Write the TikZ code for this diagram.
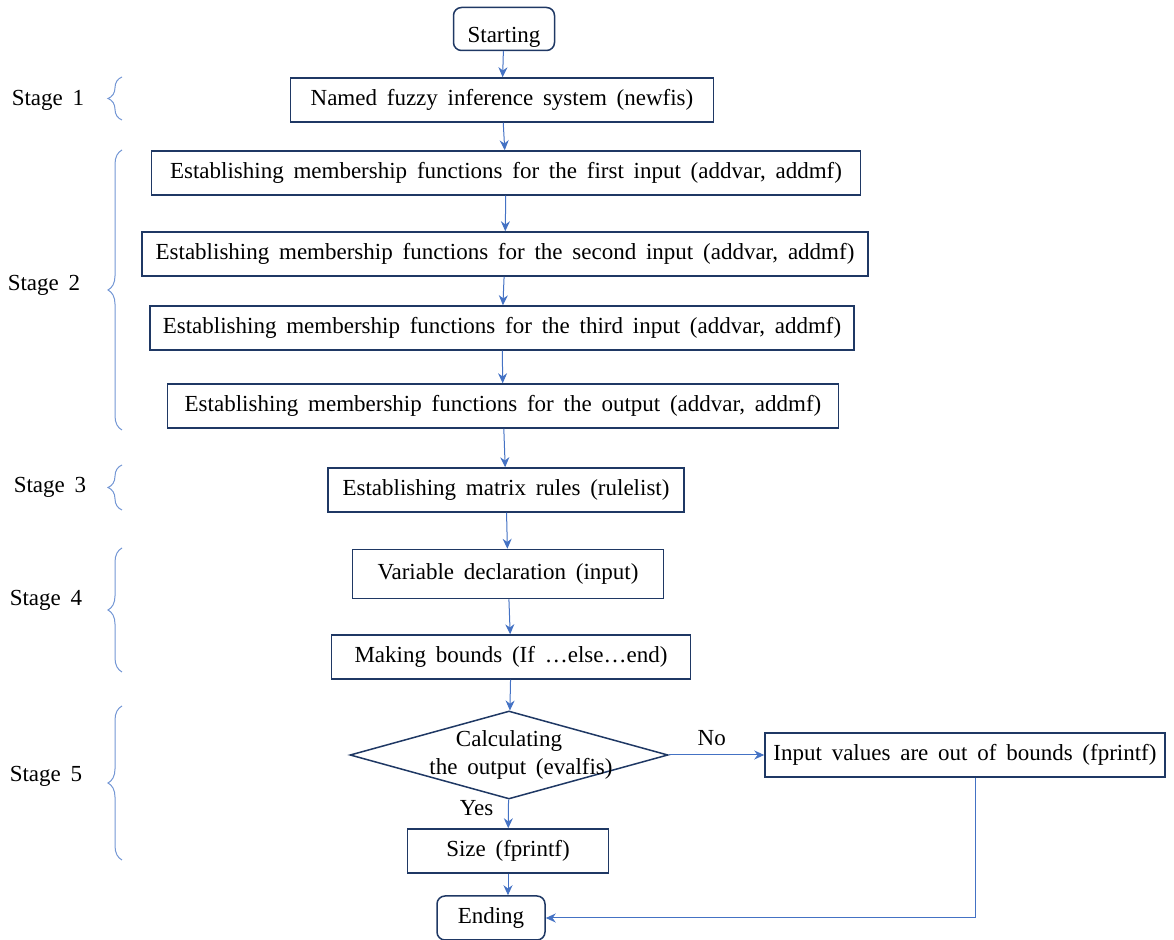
\documentclass[tikz,border=0pt]{standalone}
\usepackage{fontspec}
\setmainfont{Liberation Serif}[WordSpace=1.7]
\usepackage{tikz}
\usetikzlibrary{
    positioning,
    arrows.meta,
    shapes.geometric,
    decorations.pathreplacing
}
\definecolor{boxline}{HTML}{1F3864}
\definecolor{flowline}{HTML}{4472C4}
\definecolor{braceline}{HTML}{7396D4}
\tikzset{
    >={Stealth[length=5pt,width=4.5pt]},
    stepbox/.style={
        draw=boxline,
        line width=0.75pt,
        minimum height=22pt,
        inner sep=2pt
    },
    endbox/.style={
        stepbox,
        rounded corners=4pt
    },
    flow/.style={
        ->,
        draw=flowline,
        line width=0.5pt
    },
    stagebrace/.style={
        draw=braceline,
        line width=0.5pt,
        decorate,
        decoration={brace, amplitude=7pt}
    }
}

\begin{document}
\begin{tikzpicture}[
    x=0.5pt,
    y=-0.5pt,
    font=\fontsize{11.5}{14}\selectfont
]
    \useasboundingbox (0,0) rectangle (1174,940);

    % Pasos
    \node[endbox, minimum width=50.5pt, minimum height=21.5pt,
          label={[yshift=-4pt]center:Starting}] (start) at (504,29) {};
    \node[stepbox, minimum width=211.5pt] (fis)   at (502,100) {Named fuzzy inference system (newfis)};
    \node[stepbox, minimum width=354.5pt] (mfa)   at (506,173) {Establishing membership functions for the first input (addvar, addmf)};
    \node[stepbox, minimum width=363pt]   (mfb)   at (505,254) {Establishing membership functions for the second input (addvar, addmf)};
    \node[stepbox, minimum width=352pt]   (mfc)   at (502,328) {Establishing membership functions for the third input (addvar, addmf)};
    \node[stepbox, minimum width=335.5pt] (mfo)   at (503,406) {Establishing membership functions for the output (addvar, addmf)};
    \node[stepbox, minimum width=178pt]   (rules) at (506,490) {Establishing matrix rules (rulelist)};
    \node[stepbox, minimum width=155.5pt, minimum height=24.5pt] (decl) at (508,574) {Variable declaration (input)};
    \node[stepbox, minimum width=179.5pt] (bnds)  at (511,657) {Making bounds (If \dots else\dots end)};
    \node[draw=boxline, line width=0.75pt, diamond, minimum width=159pt, minimum height=44pt, inner sep=0pt,
          label={[align=center]center:Calculating\\\hspace*{12pt}the output (evalfis)}]
                                          (calc)  at (509,755) {};
    \node[stepbox, minimum width=200pt]   (oob)   at (965,755) {Input values are out of bounds (fprintf)};
    \node[stepbox, minimum width=100.5pt] (size)  at (508,851) {Size (fprintf)};
    \node[endbox, minimum width=54pt]     (ending) at (491,918) {Ending};

    % Flechas
    \draw[flow] (start) -- (fis);
    \draw[flow] (fis)   -- (mfa);
    \draw[flow] (mfa)   -- (mfb);
    \draw[flow] (mfb)   -- (mfc);
    \draw[flow] (mfc)   -- (mfo);
    \draw[flow] (mfo)   -- (rules);
    \draw[flow] (rules) -- (decl);
    \draw[flow] (decl)  -- (bnds);
    \draw[flow] (bnds)  -- (calc);
    \draw[flow] (calc)  -- node[above=1pt, pos=0.45] {No} (oob);
    \draw[flow] (calc)  -- node[left=4pt, pos=0.3] {Yes} (size);
    \draw[flow] (size)  -- (size |- ending.north);
    \draw[flow] ([xshift=5pt]oob.south) |- (ending);

    % Etapas
    \node (s1) at (48,100) {Stage 1};
    \node (s2) at (44,285) {Stage 2};
    \node (s3) at (50,487) {Stage 3};
    \node (s4) at (46,600) {Stage 4};
    \node (s5) at (46,776) {Stage 5};
    \draw[stagebrace] (122,120) -- (122,77);
    \draw[stagebrace] (122,430) -- (122,150);
    \draw[stagebrace] (122,510) -- (122,465);
    \draw[stagebrace] (122,672) -- (122,548);
    \draw[stagebrace] (122,860) -- (122,706);

\end{tikzpicture}
\end{document}
